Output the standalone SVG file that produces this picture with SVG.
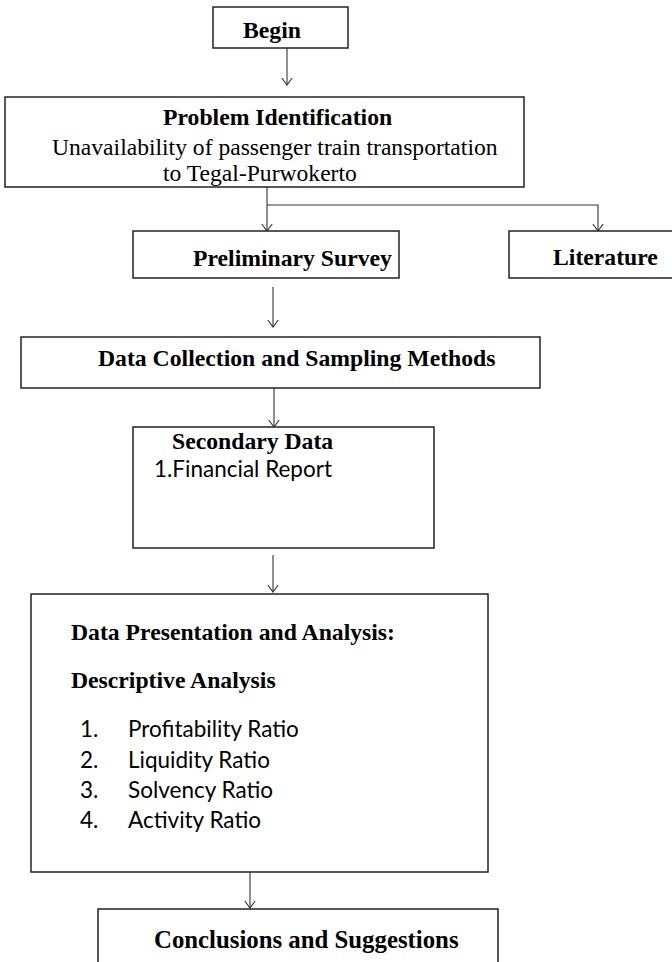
<svg xmlns="http://www.w3.org/2000/svg" width="672" height="962" viewBox="0 0 672 962">
<style>
.box{fill:#fff;stroke:#222;stroke-width:1.5}
.con{fill:none;stroke:#333;stroke-width:1.1}
.b{font-family:"Liberation Serif","Times New Roman",serif;font-weight:bold;font-size:23.7px;fill:#000}
.r{font-family:"Liberation Serif","Times New Roman",serif;font-size:23.6px;fill:#000}
.s{font-family:Lato,"Open Sans",sans-serif;font-size:22.5px;fill:#000}
</style>
<defs>
<marker id="ah" markerUnits="userSpaceOnUse" viewBox="0 0 8 12" refX="7.5" refY="6" markerWidth="8" markerHeight="12" orient="auto">
<path d="M0.5,0.8 L7.5,6 L0.5,11.2" fill="none" stroke="#333" stroke-width="1.1"/>
</marker>
</defs>
<rect width="672" height="962" fill="#fff"/>
<g id="connectors">
<line class="con" x1="287" y1="48" x2="287" y2="85" marker-end="url(#ah)"/>
<line class="con" x1="267" y1="187" x2="267" y2="231" marker-end="url(#ah)"/>
<polyline class="con" points="267,205 598,205 598,231" marker-end="url(#ah)"/>
<line class="con" x1="273" y1="287" x2="273" y2="327" marker-end="url(#ah)"/>
<line class="con" x1="274" y1="388" x2="274" y2="427" marker-end="url(#ah)"/>
<line class="con" x1="273" y1="555" x2="273" y2="592" marker-end="url(#ah)"/>
<line class="con" x1="250" y1="872" x2="250" y2="908" marker-end="url(#ah)"/>
</g>
<g id="begin">
<rect class="box" x="213" y="7" width="135" height="41"/>
<text class="b" x="243" y="38">Begin</text>
</g>
<g id="problem">
<rect class="box" x="5" y="97" width="519" height="90"/>
<text class="b" x="163" y="125">Problem Identification</text>
<text class="r" x="52" y="155">Unavailability of passenger train transportation</text>
<text class="r" x="163" y="181">to Tegal-Purwokerto</text>
</g>
<g id="preliminary">
<rect class="box" x="133" y="231" width="266" height="47"/>
<text class="b" x="193" y="266">Preliminary Survey</text>
</g>
<g id="literature">
<rect class="box" x="509" y="231" width="170" height="47"/>
<text class="b" x="553" y="265">Literature</text>
</g>
<g id="datacollection">
<rect class="box" x="21" y="337" width="519" height="51"/>
<text class="b" x="98" y="366">Data Collection and Sampling Methods</text>
</g>
<g id="secondary">
<rect class="box" x="133" y="427" width="301" height="121"/>
<text class="b" x="172" y="449">Secondary Data</text>
<text class="s" x="154" y="477">1.Financial Report</text>
</g>
<g id="analysis">
<rect class="box" x="31" y="594" width="457" height="278"/>
<text class="b" x="71" y="640">Data Presentation and Analysis:</text>
<text class="b" x="71" y="688">Descriptive Analysis</text>
<text class="s" x="80" y="737">1.</text><text class="s" x="128" y="737">Profitability Ratio</text>
<text class="s" x="80" y="768">2.</text><text class="s" x="128" y="768">Liquidity Ratio</text>
<text class="s" x="80" y="798">3.</text><text class="s" x="128" y="798">Solvency Ratio</text>
<text class="s" x="80" y="828">4.</text><text class="s" x="128" y="828">Activity Ratio</text>
</g>
<g id="conclusions">
<rect class="box" x="98" y="909" width="400" height="70"/>
<text class="b" x="154" y="948" style="font-size:24.8px">Conclusions and Suggestions</text>
</g>
</svg>
